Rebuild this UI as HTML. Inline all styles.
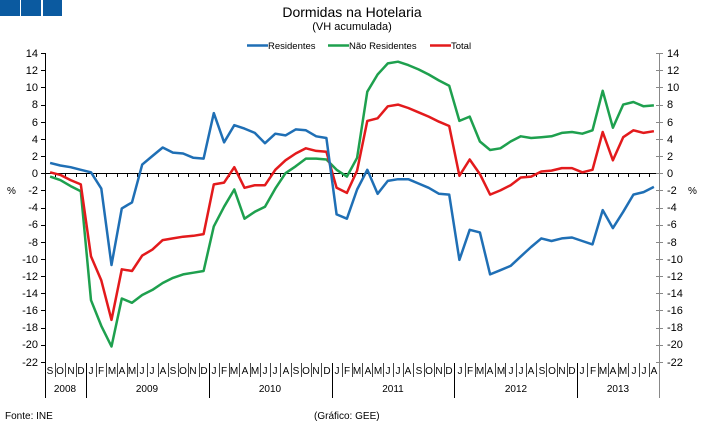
<!DOCTYPE html>
<html><head><meta charset="utf-8"><style>
body{margin:0;background:#fff;}
svg{display:block;font-family:"Liberation Sans",Arial,sans-serif;}
</style></head><body>
<svg id="s" width="705" height="427" viewBox="0 0 705 427">
<rect x="0" y="0" width="20" height="16" fill="#0b5aa0"/>
<rect x="21" y="0" width="20" height="16" fill="#0b5aa0"/>
<rect x="43" y="0" width="19" height="16" fill="#0b5aa0"/>
<text x="352" y="17" font-size="14" text-anchor="middle">Dormidas na Hotelaria</text>
<text x="352" y="30" font-size="11" text-anchor="middle">(VH acumulada)</text>
<g font-size="9.5">
<line x1="247" y1="45.5" x2="268" y2="45.5" stroke="#1f6fb5" stroke-width="2.5"/><text x="268" y="49">Residentes</text>
<line x1="328" y1="45.5" x2="349" y2="45.5" stroke="#1ea04e" stroke-width="2.5"/><text x="349" y="49">Não Residentes</text>
<line x1="430" y1="45.5" x2="451" y2="45.5" stroke="#e31a1c" stroke-width="2.5"/><text x="451" y="49">Total</text>
</g>
<g id="ax" stroke="#000" stroke-width="1"></g>
<g font-size="11" text-anchor="end">
<text x="38" y="57">14</text><text x="38" y="74">12</text><text x="38" y="91">10</text><text x="38" y="108">8</text><text x="38" y="126">6</text><text x="38" y="143">4</text><text x="38" y="160">2</text><text x="38" y="177">0</text><text x="38" y="194">-2</text><text x="38" y="211">-4</text><text x="38" y="228">-6</text><text x="38" y="246">-8</text><text x="38" y="263">-10</text><text x="38" y="280">-12</text><text x="38" y="297">-14</text><text x="38" y="314">-16</text><text x="38" y="331">-18</text><text x="38" y="348">-20</text><text x="38" y="366">-22</text>
</g>
<g font-size="11" text-anchor="start">
<text x="667" y="57">14</text><text x="667" y="74">12</text><text x="667" y="91">10</text><text x="667" y="108">8</text><text x="667" y="126">6</text><text x="667" y="143">4</text><text x="667" y="160">2</text><text x="667" y="177">0</text><text x="667" y="194">-2</text><text x="667" y="211">-4</text><text x="667" y="228">-6</text><text x="667" y="246">-8</text><text x="667" y="263">-10</text><text x="667" y="280">-12</text><text x="667" y="297">-14</text><text x="667" y="314">-16</text><text x="667" y="331">-18</text><text x="667" y="348">-20</text><text x="667" y="366">-22</text>
</g>
<text x="7" y="194" font-size="10">%</text>
<text x="688" y="194" font-size="10">%</text>
<g id="ml" font-size="10" text-anchor="middle">
<text x="50" y="374">S</text><text x="60" y="374">O</text><text x="71" y="374">N</text><text x="81" y="374">D</text>
<text x="91" y="374">J</text><text x="101" y="374">F</text><text x="112" y="374">M</text><text x="122" y="374">A</text><text x="132" y="374">M</text><text x="142" y="374">J</text><text x="152" y="374">J</text><text x="163" y="374">A</text><text x="173" y="374">S</text><text x="183" y="374">O</text><text x="193" y="374">N</text><text x="204" y="374">D</text>
<text x="214" y="374">J</text><text x="224" y="374">F</text><text x="234" y="374">M</text><text x="245" y="374">A</text><text x="255" y="374">M</text><text x="265" y="374">J</text><text x="275" y="374">J</text><text x="286" y="374">A</text><text x="296" y="374">S</text><text x="306" y="374">O</text><text x="316" y="374">N</text><text x="327" y="374">D</text>
<text x="337" y="374">J</text><text x="347" y="374">F</text><text x="357" y="374">M</text><text x="368" y="374">A</text><text x="378" y="374">M</text><text x="388" y="374">J</text><text x="398" y="374">J</text><text x="408" y="374">A</text><text x="419" y="374">S</text><text x="429" y="374">O</text><text x="439" y="374">N</text><text x="449" y="374">D</text>
<text x="460" y="374">J</text><text x="470" y="374">F</text><text x="480" y="374">M</text><text x="490" y="374">A</text><text x="501" y="374">M</text><text x="511" y="374">J</text><text x="521" y="374">J</text><text x="531" y="374">A</text><text x="542" y="374">S</text><text x="552" y="374">O</text><text x="562" y="374">N</text><text x="572" y="374">D</text>
<text x="582" y="374">J</text><text x="593" y="374">F</text><text x="603" y="374">M</text><text x="613" y="374">A</text><text x="623" y="374">M</text><text x="634" y="374">J</text><text x="644" y="374">J</text><text x="654" y="374">A</text>
</g>
<g font-size="10" text-anchor="middle">
<text x="65" y="392">2008</text><text x="147" y="392">2009</text><text x="270" y="392">2010</text><text x="393" y="392">2011</text><text x="516" y="392">2012</text><text x="618" y="392">2013</text>
</g>
<text x="5" y="419" font-size="10">Fonte: INE</text>
<text x="314" y="419" font-size="10">(Gráfico: GEE)</text>
<g id="ser" fill="none" stroke-width="2.5" stroke-linejoin="round"></g>
</svg>
<script>
var NS="http://www.w3.org/2000/svg";
var L=45,R=659,dx=(R-L)/60;
function Y(v){return 173.2-v*8.58;}
var ax=document.getElementById("ax");
function ln(x1,y1,x2,y2,c){var e=document.createElementNS(NS,"line");e.setAttribute("x1",x1);e.setAttribute("y1",y1);e.setAttribute("x2",x2);e.setAttribute("y2",y2);if(c)e.setAttribute("stroke",c);ax.appendChild(e);}
ln(L+0.5,53,L+0.5,398,"#000");
ln(R+0.5,53,R+0.5,398,"#888");
ln(L,173.5,R,173.5,"#000");
for(var v=14;v>=-22;v-=2){var y=Math.round(Y(v))+0.5;ln(L-4,y,L+1,y,"#000");ln(R-3,y,R+4,y,"#888");}
for(var i=1;i<60;i++){var x=Math.round(L+i*dx)+0.5;ln(x,173,x,177,"#000");
 var yr=(i==4||i==16||i==28||i==40||i==52);ln(x,363,x,yr?398:377,yr?"#000":"#444");}
var res=[1.2,0.9,0.7,0.4,0.1,-1.8,-10.7,-4.1,-3.4,1.0,2.0,3.0,2.4,2.3,1.8,1.7,7.0,3.6,5.6,5.2,4.7,3.5,4.6,4.4,5.1,5.0,4.3,4.1,-4.8,-5.3,-1.9,0.4,-2.4,-0.9,-0.7,-0.7,-1.2,-1.7,-2.4,-2.5,-10.1,-6.6,-6.9,-11.8,-11.3,-10.8,-9.7,-8.6,-7.6,-7.9,-7.6,-7.5,-7.9,-8.3,-4.3,-6.4,-4.5,-2.5,-2.2,-1.6];
var nres=[-0.4,-0.8,-1.5,-2.1,-14.8,-17.8,-20.2,-14.6,-15.1,-14.2,-13.6,-12.8,-12.2,-11.8,-11.6,-11.4,-6.2,-3.9,-1.9,-5.3,-4.5,-3.9,-1.8,0.0,0.8,1.7,1.7,1.6,0.4,-0.4,1.8,9.5,11.5,12.8,13.0,12.6,12.1,11.5,10.8,10.2,6.1,6.6,3.7,2.7,2.9,3.7,4.3,4.1,4.2,4.3,4.7,4.8,4.6,5.0,9.6,5.3,8.0,8.3,7.8,7.9];
var tot=[0.1,-0.2,-0.8,-1.3,-9.7,-12.5,-17.1,-11.2,-11.4,-9.6,-8.9,-7.8,-7.6,-7.4,-7.3,-7.1,-1.3,-1.1,0.7,-1.7,-1.4,-1.4,0.4,1.5,2.3,2.9,2.6,2.5,-1.7,-2.3,0.3,6.1,6.4,7.8,8.0,7.6,7.1,6.6,6.0,5.5,-0.3,1.6,-0.1,-2.5,-2.0,-1.4,-0.5,-0.4,0.2,0.3,0.6,0.6,0.1,0.4,4.8,1.5,4.2,5.0,4.7,4.9];
var g=document.getElementById("ser");
[[nres,"#1ea04e"],[tot,"#e31a1c"],[res,"#1f6fb5"]].forEach(function(s){
 var p=s[0].map(function(v,i){return (L+dx*(i+0.5)).toFixed(1)+","+Y(v).toFixed(1);}).join(" ");
 var e=document.createElementNS(NS,"polyline");e.setAttribute("points",p);e.setAttribute("stroke",s[1]);g.appendChild(e);});
</script>
</body></html>
